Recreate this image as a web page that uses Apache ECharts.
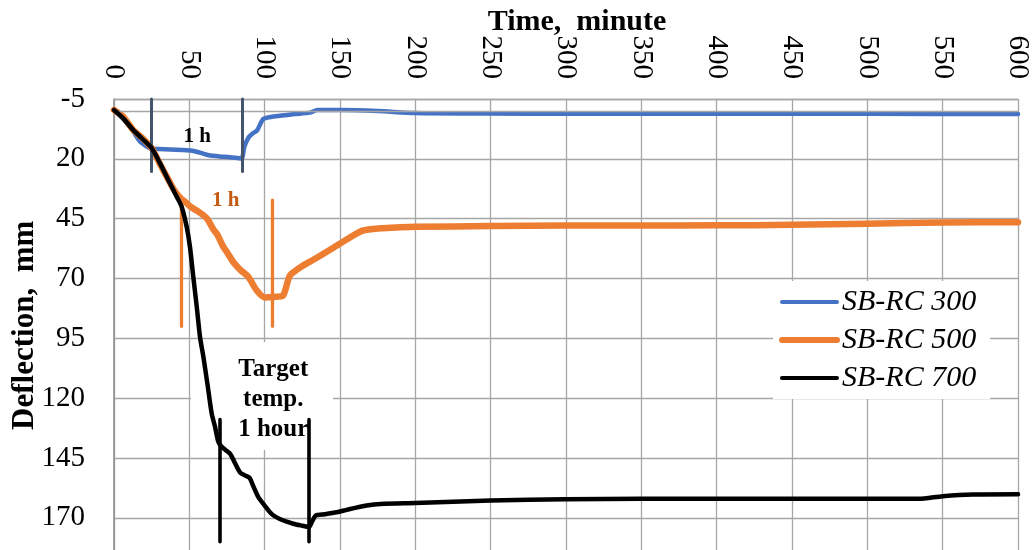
<!DOCTYPE html>
<html><head><meta charset="utf-8">
<script src="https://cdn.jsdelivr.net/npm/echarts@6/dist/echarts.min.js"></script>
<style>html,body{margin:0;padding:0;background:#fff}#c{width:1032px;height:550px}</style>
</head><body><div id="c"></div>
<script>
// ---- data (time in minutes, deflection in mm) ----
const seriesNames = ['SB-RC 300', 'SB-RC 500', 'SB-RC 700'];

const t300 = [0, 6, 12, 17, 22, 25, 30, 45, 52, 57, 63, 70, 77, 84.5, 86.5, 89.5, 92, 95, 99, 104, 110, 120, 130, 135, 150, 175, 200, 250, 300, 400, 500, 600];
const d300 = [-0.4, 3.2, 7.8, 12.6, 15.0, 15.7, 15.9, 16.3, 16.6, 17.4, 18.5, 19.0, 19.3, 19.9, 15.0, 10.9, 9.4, 8.1, 3.4, 2.5, 2.0, 1.3, 0.7, -0.4, -0.4, 0.0, 0.9, 1.1, 1.2, 1.2, 1.2, 1.3];

const t500 = [0, 6, 12.5, 19, 25, 30.5, 36, 39.5, 44, 47, 50.5, 56, 61.5, 66, 68.5, 72.5, 75, 79, 84, 89, 94.5, 100, 106, 112, 113.5, 116.5, 120, 125, 132, 145, 155, 165, 177, 190, 200, 250, 300, 350, 400, 450, 500, 550, 600];
const d500 = [-0.4, 2.3, 7.8, 11.4, 15.5, 22.2, 28.6, 32.6, 36.4, 37.8, 39.9, 42.1, 44.8, 49.5, 51.6, 56.7, 59.0, 63.0, 66.5, 69.2, 74.8, 77.9, 77.7, 77.3, 75.3, 69.0, 67.0, 64.8, 62.3, 57.4, 53.5, 50.0, 49.0, 48.6, 48.4, 48.1, 47.9, 47.9, 47.8, 47.6, 47.1, 46.6, 46.5];

const t700 = [0, 6, 12.5, 18.4, 25, 30.5, 36, 41.6, 44.9, 48.2, 50.4, 52.6, 54.9, 57.1, 59.3, 62, 64.8, 67.1, 69.2, 71, 74, 77, 80, 83.7, 87, 90, 92.5, 95.8, 100, 104.7, 110, 119, 125, 129.4, 131.5, 134, 140, 147.8, 155, 167.7, 177, 200, 250, 300, 350, 400, 450, 500, 534, 550, 570, 600];
const d700 = [-0.4, 3.0, 7.8, 11.4, 15.5, 21.8, 28.8, 35.8, 40.0, 48.3, 56.7, 69.2, 81.7, 94.5, 102.7, 114, 126.3, 132.1, 138.2, 140.0, 141.7, 143.2, 146.8, 151.1, 152.3, 153.3, 156.9, 161.4, 164.9, 168.5, 170.5, 172.5, 173.3, 173.8, 171.5, 169.0, 168.5, 167.7, 166.6, 164.9, 164.2, 163.8, 162.8, 162.3, 162.1, 162.1, 162.1, 162.1, 162.1, 161.0, 160.3, 160.2];

// axis ticks
const xMin = 0, xMax = 600, xStep = 50;
const yTickLabels = [-5, 20, 45, 70, 95, 120, 145, 170, 195];

// annotation marks: [time, fromDeflection, toDeflection]
const markBlue = [[25, -5, 25.3], [84.8, -5, 25.3]];
const markOrange = [[44.5, 35.8, 90], [105, 37.3, 90]];
const markBlack = [[70.4, 129, 180], [129.4, 129, 180]];
const noteBox = [[51, 96.5], [145.4, 141.7]];
const notes = [
  { text: '1 h', t: 55.3, d: 10.8, color: '#000000', size: 21 },
  { text: '1 h', t: 74.1, d: 37.3, color: '#c55a11', size: 21 },
  { text: 'Target\ntemp.\n1 hour', t: 105.7, d: 120.8, color: '#000000', size: 25 }
];

// ---- chart ----
const Y0 = yTickLabels[0];            // axis starts at -5
const off = v => v - Y0;              // shift so ticks align from axis start
const pair = (ts, ds) => ts.map((t, i) => [t, off(ds[i])]);
const serif = "'Liberation Serif','Times New Roman',serif";
const gridColor = '#a6a6a6';
const colors = ['#4472c4', '#ed7d31', '#000000'];
const widths = [4.5, 6.5, 4.5];

const vline = (arr, color, width) => arr.map(([t, a, b]) => [
  { coord: [t, off(a)], lineStyle: { color, width, type: 'solid', cap: 'round' } },
  { coord: [t, off(b)] }
]);

const chart = echarts.init(document.getElementById('c'), null, { renderer: 'canvas' });
chart.setOption({
  animation: false,
  backgroundColor: '#ffffff',
  grid: { left: 114, top: 99, width: 904, height: 478.6, containLabel: false, outerBoundsMode: 'none' },
  legend: {
    data: seriesNames.map((n, i) => ({ name: n, lineStyle: { width: widths[i] - 0.5, cap: 'round' } })),
    orient: 'vertical', left: 773, top: 281,
    backgroundColor: '#ffffff',
    padding: [6, 14, 6, 6],
    itemWidth: 55, itemHeight: 14, itemGap: 8,
    itemStyle: { opacity: 0 },
    textStyle: { fontFamily: serif, fontStyle: 'italic', fontSize: 30, color: '#000', lineHeight: 30 }
  },
  xAxis: {
    type: 'value', position: 'top', min: xMin, max: xMax, interval: xStep,
    name: 'Time,  minute', nameLocation: 'middle', nameGap: 62, nameMoveOverlap: false,
    nameTextStyle: { fontFamily: serif, fontWeight: 'bold', fontSize: 30, color: '#000', padding: [0, 0, 0, 22] },
    axisLine: { show: true, lineStyle: { color: gridColor, width: 1.3 } },
    axisTick: { show: false },
    axisLabel: { rotate: -90, margin: 20, fontFamily: serif, fontSize: 29, color: '#000', hideOverlap: false },
    splitLine: { show: true, lineStyle: { color: gridColor, width: 1.3 } }
  },
  yAxis: {
    type: 'value', inverse: true, min: 0, max: off(yTickLabels[yTickLabels.length - 1]), interval: 25,
    name: 'Deflection,  mm', nameLocation: 'middle', nameGap: 74, nameRotate: 90, nameMoveOverlap: false,
    nameTextStyle: { fontFamily: serif, fontWeight: 'bold', fontSize: 31, color: '#000', padding: [0, 0, 0, 26] },
    axisLine: { show: true, lineStyle: { color: '#8c8c8c', width: 1.5 } },
    axisTick: { show: false },
    axisLabel: { margin: 29, fontFamily: serif, fontSize: 29, color: '#000', formatter: v => String(v + Y0) },
    splitLine: { show: true, lineStyle: { color: gridColor, width: 1.3 } }
  },
  series: [
    {
      name: 'box', type: 'line', data: [], z: 1, silent: true,
      markArea: {
        silent: true, itemStyle: { color: '#ffffff', opacity: 1 }, label: { show: false },
        data: [[{ coord: [noteBox[0][0], off(noteBox[0][1])] }, { coord: [noteBox[1][0], off(noteBox[1][1])] }]]
      },
      markLine: {
        silent: true, symbol: ['none', 'none'], label: { show: false },
        lineStyle: { color: gridColor, width: 1.3, type: 'solid' },
        data: [{ yAxis: off(0) }]
      }
    },
    ...[[t300, d300], [t500, d500], [t700, d700]].map(([ts, ds], i) => ({
      name: seriesNames[i], type: 'line', data: pair(ts, ds), z: 3 + i,
      smooth: 0.25, symbol: 'none', color: colors[i],
      lineStyle: { color: colors[i], width: widths[i], cap: 'round', join: 'round' }
    })),
    {
      name: 'marks', type: 'line', data: [], z: 7, silent: true,
      markLine: {
        silent: true, symbol: ['none', 'none'], label: { show: false },
        data: [].concat(vline(markBlue, '#44546a', 3), vline(markOrange, '#ed7d31', 3.3), vline(markBlack, '#000000', 3.6))
      }
    },
    {
      name: 'notes', type: 'scatter', z: 8, silent: true, symbolSize: 0,
      itemStyle: { color: '#ffffff', opacity: 1 },
      data: notes.map(n => ({
        value: [n.t, off(n.d)],
        label: { show: true, position: 'inside', formatter: n.text, color: n.color, fontSize: n.size,
                 textBorderWidth: 0, textBorderColor: 'transparent', opacity: 1,
                 fontWeight: 'bold', fontFamily: serif, lineHeight: n.size * 1.2, align: 'center', verticalAlign: 'middle' }
      }))
    }
  ]
});
</script>
</body></html>
